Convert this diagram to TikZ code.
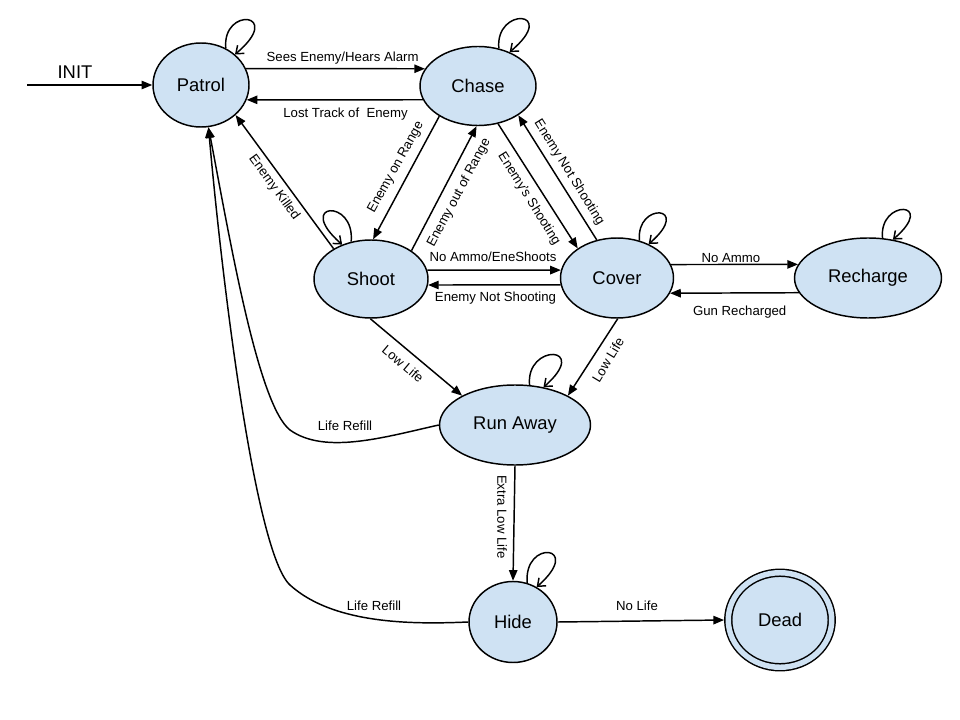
\documentclass[tikz,border=0pt]{standalone}
\usepackage{fontspec}
\setmainfont{Liberation Sans}
\usetikzlibrary{arrows.meta,shapes.geometric}

\definecolor{statefill}{RGB}{207,226,243}
\tikzset{
  state/.style={ellipse,draw,line width=1.1pt,fill=statefill,inner sep=0pt,font=\fontsize{13.8}{16}\selectfont},
  final/.style={state,double=statefill,double distance=4.1pt,outer sep=3.15pt},
  trans/.style={line width=1.1pt,-{Triangle[length=8pt,width=6.3pt]}},
  selfloop/.style={line width=1.1pt,-{Straight Barb[length=5pt,width=8pt]}},
  lbl/.style={inner sep=0pt,font=\fontsize{9.9}{12}\selectfont},
}

\begin{document}
\begin{tikzpicture}[x=0.75pt,y=0.75pt,yscale=-1,xscale=1]
\useasboundingbox (0,0) rectangle (960,720);

% States
\node[state,minimum width=72pt,minimum height=63pt] (patrol) at (201,85) {Patrol};
\node[state,minimum width=87pt,minimum height=59.25pt] (chase) at (478,86) {Chase};
\node[state,minimum width=85.5pt,minimum height=58.5pt] (shoot) at (371,279) {Shoot};
\node[state,minimum width=84.75pt,minimum height=60pt] (cover) at (617,278) {Cover};
\node[state,minimum width=110.25pt,minimum height=60pt] (recharge) at (868,278) {Recharge};
\node[state,minimum width=113.25pt,minimum height=60pt] (runaway) at (515,425) {Run Away};
\node[state,minimum width=66pt,minimum height=60.75pt] (hide) at (513,622) {Hide};
\node[final,minimum width=77.6pt,minimum height=70.9pt] (dead) at (780,620) {Dead};

% Init
\coordinate (init) at (27,85);
\draw[trans] (init) -- (patrol.west);
\draw (75,72) node[font=\fontsize{13.8}{16}\selectfont] (initlbl) {INIT};

% Transitions
\draw[trans] (patrol.20) -- (chase.162);
\draw[trans] (chase.194) -- (patrol.-18);
\draw[trans] (shoot.141) -- (patrol.-41);
\draw[trans] (chase.218) -- (shoot.87);
\draw[trans] (shoot.35) -- (chase.-92);
\draw[trans] (chase.-62) -- (cover.143);
\draw[trans] (cover.118) -- (chase.-36);
\draw[trans] (shoot.9) -- (cover.172);
\draw[trans] (cover.187) -- (shoot.-6);
\draw[trans] (cover.14) -- (recharge.169);
\draw[trans] (recharge.192) -- (cover.-16);
\draw[trans] (shoot.-91) -- (runaway.151);
\draw[trans] (cover.-89) -- (runaway.29);
\draw[trans] (runaway.south) -- (hide.north);
\draw[trans] (hide.east) -- (dead.west);
\draw[trans] (runaway.west) .. controls (385,437) and (325,455) .. (290,430) .. controls (258,405) and (230,240) .. (patrol.-80);
\draw[trans] (hide.west) .. controls (420,624) and (335,626) .. (290,585) .. controls (255,553) and (222,280) .. (patrol.-80);

% Self loops
\draw[selfloop] (patrol.56) .. controls +(-4,-42) and +(50,-42) .. (patrol.42);
\draw[selfloop] (chase.61) .. controls +(-4,-42) and +(50,-42) .. (chase.47);
\draw[selfloop] (shoot.118) .. controls +(4,-44) and +(-48,-42) .. (shoot.130);
\draw[selfloop] (cover.59) .. controls +(-4,-39) and +(45,-39) .. (cover.47);
\draw[selfloop] (recharge.70) .. controls +(-4,-39) and +(45,-39) .. (recharge.57);
\draw[selfloop] (runaway.70) .. controls +(-4,-42) and +(48,-42) .. (runaway.53);
\draw[selfloop] (hide.70) .. controls +(-4,-44) and +(48,-42) .. (hide.56);

% Labels
\node[lbl] (seeslbl) at (342.6,58) {Sees Enemy/Hears Alarm};
\node[lbl] (lostlbl) at (345.5,114) {Lost Track of~ Enemy};
\node[lbl,rotate=-54] (killedlbl) at (274,187.5) {Enemy Killed};
\node[lbl,rotate=61] (onrangelbl) at (396,167.5) {Enemy on Range};
\node[lbl,rotate=62] (outrangelbl) at (459,193) {Enemy out of Range};
\node[lbl,rotate=-58] (shootinglbl) at (529,199) {Enemy's Shooting};
\node[lbl,rotate=-58] (notshootlbl) at (569,172.5) {Enemy Not Shooting};
\node[lbl] (eneshootslbl) at (493,256.7) {No Ammo/EneShoots};
\node[lbl] (notshoot2lbl) at (495.5,298.3) {Enemy Not Shooting};
\node[lbl] (noammolbl) at (731,257.7) {No Ammo};
\node[lbl] (rechargedlbl) at (739.7,311.7) {Gun Recharged};
\node[lbl,rotate=-40] (lowlifelbl) at (403,364) {Low Life};
\node[lbl,rotate=59] (lowlife2lbl) at (608,360) {Low Life};
\node[lbl,rotate=-90] (xlowlbl) at (502,517) {Extra Low Life};
\node[lbl] (refilllbl) at (345,426) {Life Refill};
\node[lbl] (refill2lbl) at (374,606) {Life Refill};
\node[lbl] (nolifelbl) at (637,606) {No Life};
\end{tikzpicture}
\end{document}
